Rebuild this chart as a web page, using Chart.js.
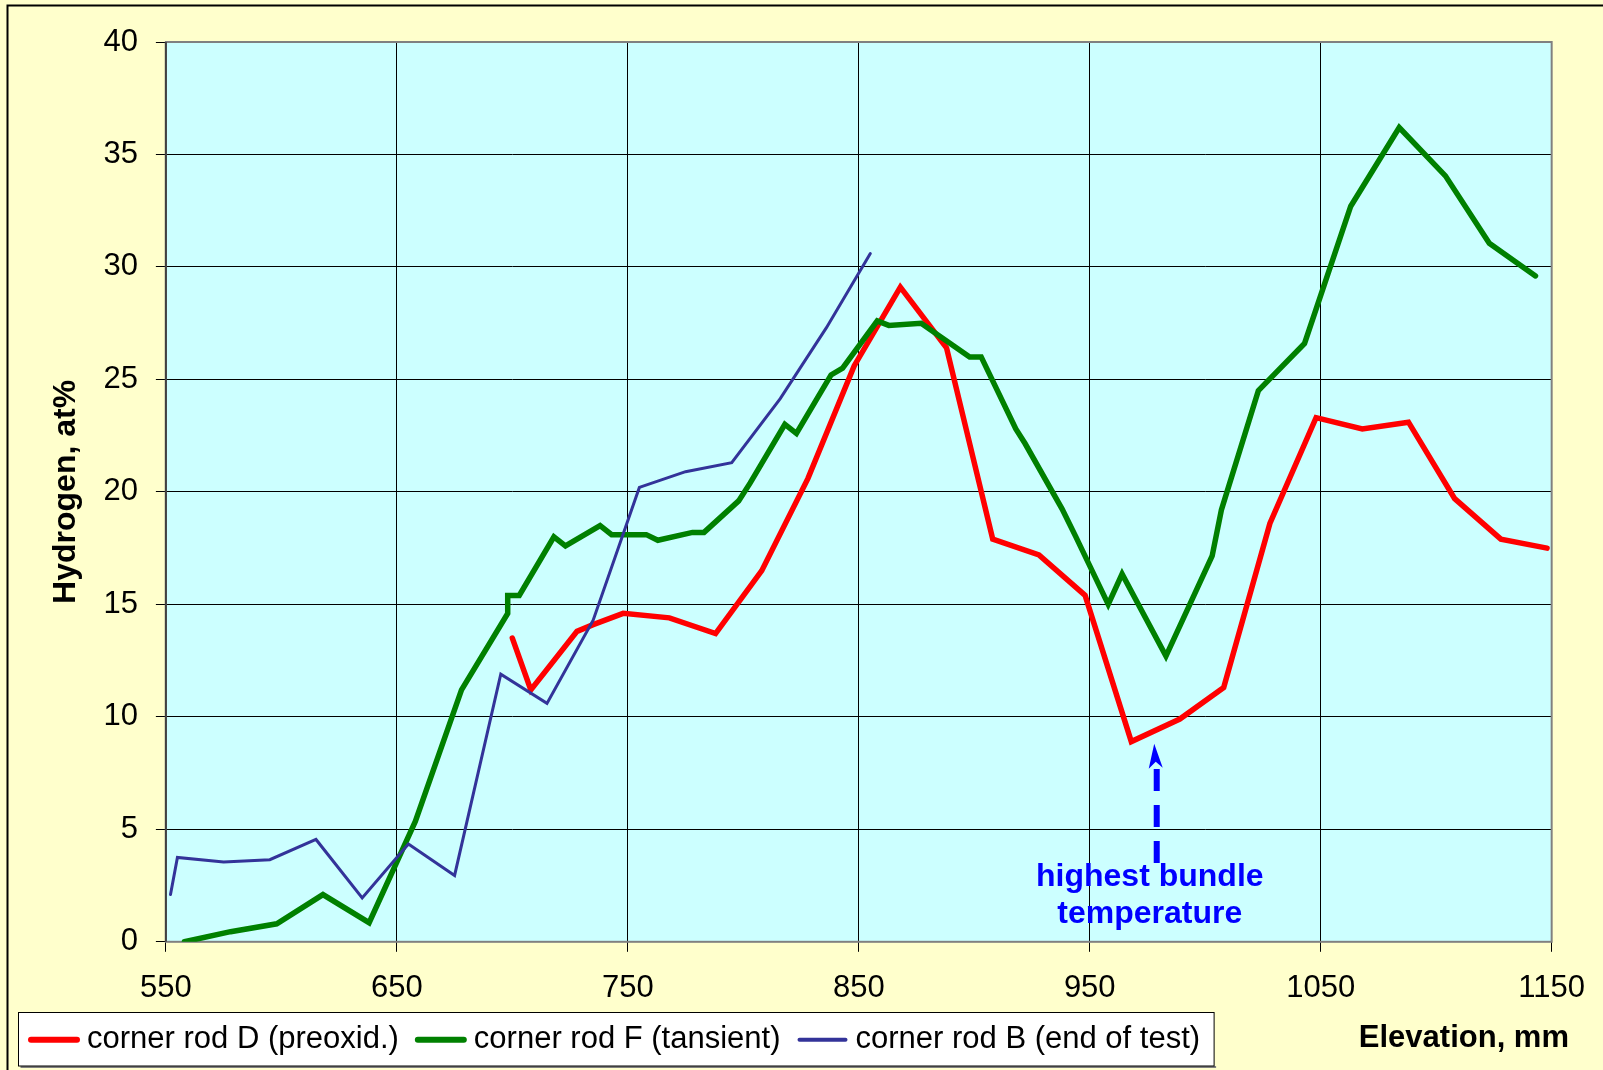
<!DOCTYPE html>
<html>
<head>
<meta charset="utf-8">
<script src="https://cdn.jsdelivr.net/npm/chart.js@4.4.1/dist/chart.umd.min.js"></script>
<style>
  html, body { margin: 0; padding: 0; background: #ffffcc; }
  #wrap { width: 1603px; height: 1070px; }
</style>
</head>
<body>
<div id="wrap"><canvas id="chart" width="1603" height="1070"></canvas></div>
<script>
// elevation (mm) / hydrogen (at%)
const rodD_elev = [700, 708, 728, 735, 748, 768, 788, 808, 828, 848, 868, 888, 908, 928, 948, 968, 989, 1008, 1028, 1048, 1068, 1088, 1108, 1128, 1148];
const rodD_h2   = [13.5, 11.2, 13.8, 14.1, 14.6, 14.4, 13.7, 16.5, 20.6, 25.6, 29.1, 26.4, 17.9, 17.2, 15.4, 8.9, 9.9, 11.3, 18.6, 23.3, 22.8, 23.1, 19.7, 17.9, 17.5];

const rodF_elev = [558, 578, 598, 618, 638, 658, 678, 698, 698, 703, 718, 723, 738, 743, 758, 763, 778, 783, 798, 803, 818, 823, 838, 843, 858, 863, 877, 898, 903, 918, 922, 938, 944, 958, 964, 983, 1003, 1007, 1023, 1043, 1063, 1084, 1104, 1123, 1143];
const rodF_h2   = [0, 0.45, 0.8, 2.1, 0.85, 5.35, 11.2, 14.6, 15.4, 15.4, 18.0, 17.6, 18.5, 18.1, 18.1, 17.85, 18.2, 18.2, 19.6, 20.4, 23.0, 22.6, 25.2, 25.5, 27.6, 27.4, 27.5, 26.0, 26.0, 22.8, 22.15, 19.25, 18.0, 15.0, 16.35, 12.7, 17.15, 19.2, 24.5, 26.6, 32.7, 36.2, 34.05, 31.05, 29.6];

const rodB_elev = [552, 555, 575, 595, 615, 635, 655, 675, 695, 715, 735, 755, 775, 795, 816, 836, 855];
const rodB_h2   = [2.1, 3.75, 3.55, 3.65, 4.55, 1.95, 4.35, 2.95, 11.9, 10.6, 14.3, 20.2, 20.9, 21.3, 24.15, 27.3, 30.6];

const xTicks = [550, 650, 750, 850, 950, 1050, 1150];
const yTicks = [0, 5, 10, 15, 20, 25, 30, 35, 40];

// annotation, in data units
const noteLines = ['highest bundle', 'temperature'];
const noteLineY = [2.87, 1.22];
const noteX = 976;
const arrowX = 979;
const arrowTip = 8.8;
const arrowBase = 3.5;

const FONT = '"Liberation Sans", Arial, sans-serif';

const toPoints = (xs, ys) => xs.map((x, i) => ({ x: x, y: ys[i] }));

const framePlugin = {
  id: 'frame',
  beforeDraw(chart) {
    const { ctx, chartArea: a } = chart;
    ctx.save();
    ctx.fillStyle = '#ffffcc';
    ctx.fillRect(0, 0, chart.width, chart.height);
    ctx.strokeStyle = '#000';
    ctx.lineWidth = 2;
    ctx.beginPath();
    ctx.moveTo(7.5, chart.height + 5);
    ctx.lineTo(7.5, 5.5);
    ctx.lineTo(chart.width + 5, 5.5);
    ctx.stroke();
    ctx.fillStyle = '#ccffff';
    ctx.fillRect(a.left, a.top, a.right - a.left, a.bottom - a.top);
    ctx.restore();
  },
  beforeDatasetsDraw(chart) {
    const { ctx, chartArea: a } = chart;
    ctx.save();
    ctx.strokeStyle = '#808080';
    ctx.lineWidth = 2;
    ctx.strokeRect(a.left, a.top, a.right - a.left, a.bottom - a.top);
    ctx.strokeStyle = '#404040';
    ctx.beginPath();
    ctx.moveTo(a.left, a.top);
    ctx.lineTo(a.left, a.bottom);
    ctx.stroke();
    ctx.restore();
  }
};

const notePlugin = {
  id: 'note',
  afterDatasetsDraw(chart) {
    const { ctx, scales: { x, y } } = chart;
    const ax = x.getPixelForValue(arrowX);
    const tip = y.getPixelForValue(arrowTip);
    const base = y.getPixelForValue(arrowBase);
    ctx.save();
    ctx.strokeStyle = '#0000ff';
    ctx.fillStyle = '#0000ff';
    ctx.lineWidth = 6;
    ctx.setLineDash([22, 14]);
    ctx.beginPath();
    ctx.moveTo(ax, base);
    ctx.lineTo(ax, tip + 20);
    ctx.stroke();
    ctx.setLineDash([]);
    ctx.beginPath();
    ctx.moveTo(ax - 2.5, tip);
    ctx.lineTo(ax - 8, tip + 25);
    ctx.lineTo(ax - 1, tip + 18);
    ctx.lineTo(ax + 6, tip + 24);
    ctx.closePath();
    ctx.fill();
    ctx.font = 'bold 32px ' + FONT;
    ctx.textAlign = 'center';
    ctx.textBaseline = 'middle';
    const tx = x.getPixelForValue(noteX);
    noteLines.forEach((t, i) => ctx.fillText(t, tx, y.getPixelForValue(noteLineY[i])));
    ctx.restore();
  }
};

const legendPlugin = {
  id: 'boxLegend',
  afterDraw(chart) {
    const ctx = chart.ctx;
    const sets = chart.data.datasets;
    const top = 1012.5, bottom = 1066, left = 18.5;
    const cy = (top + bottom) / 2 + 0.5;
    ctx.save();
    ctx.font = '31px ' + FONT;
    let xpos = 31;
    const items = sets.map(ds => {
      const it = { ds: ds, x: xpos, w: ctx.measureText(ds.label).width };
      xpos += 52 + 7 + it.w + 16;
      return it;
    });
    const right = xpos - 16 + 11;
    ctx.fillStyle = '#808080';
    ctx.fillRect(left + 2, bottom, right - left, 2);
    ctx.fillStyle = '#ffffff';
    ctx.fillRect(left, top, right - left, bottom - top);
    ctx.strokeStyle = '#000';
    ctx.lineWidth = 1;
    ctx.strokeRect(left, top, right - left, bottom - top);
    ctx.textBaseline = 'middle';
    ctx.textAlign = 'left';
    items.forEach(it => {
      ctx.strokeStyle = it.ds.borderColor;
      ctx.lineWidth = Math.max(it.ds.borderWidth + 0.5, 4);
      ctx.lineCap = 'round';
      ctx.beginPath();
      ctx.moveTo(it.x, cy);
      ctx.lineTo(it.x + 46, cy);
      ctx.stroke();
      ctx.fillStyle = '#000';
      ctx.fillText(it.ds.label, it.x + 56, cy);
    });
    // x axis title sits beside the legend
    ctx.font = 'bold 31px ' + FONT;
    ctx.textAlign = 'right';
    ctx.textBaseline = 'alphabetic';
    ctx.fillText('Elevation, mm', 1569, 1047);
    ctx.restore();
  }
};

const lineStyle = (color, width) => ({
  borderColor: color,
  backgroundColor: color,
  borderWidth: width,
  pointRadius: 0,
  pointHoverRadius: 0,
  tension: 0,
  fill: false,
  borderCapStyle: 'round'
});

new Chart(document.getElementById('chart'), {
  type: 'line',
  data: {
    datasets: [
      Object.assign({ label: 'corner rod D (preoxid.)', data: toPoints(rodD_elev, rodD_h2), order: 3 }, lineStyle('#ff0000', 5.5)),
      Object.assign({ label: 'corner rod F (tansient)', data: toPoints(rodF_elev, rodF_h2), order: 2 }, lineStyle('#008000', 5.5)),
      Object.assign({ label: 'corner rod B (end of test)', data: toPoints(rodB_elev, rodB_h2), order: 1 }, lineStyle('#333399', 3))
    ]
  },
  options: {
    responsive: false,
    animation: false,
    events: [],
    layout: { padding: { top: 42, right: 45, bottom: 45, left: 8 } },
    plugins: { legend: { display: false }, tooltip: { enabled: false } },
    scales: {
      x: {
        type: 'linear',
        min: 550,
        max: 1150,
        afterBuildTicks: s => { s.ticks = xTicks.map(v => ({ value: v })); },
        grid: { color: '#000', lineWidth: 1, tickLength: 10, tickColor: '#000' },
        border: { display: false },
        ticks: { color: '#000', font: { family: FONT, size: 31 }, padding: 18, maxRotation: 0, autoSkip: false, callback: v => String(v) }
      },
      y: {
        min: 0,
        max: 40,
        afterBuildTicks: s => { s.ticks = yTicks.map(v => ({ value: v })); },
        grid: { color: '#000', lineWidth: 1, tickLength: 10, tickColor: '#000' },
        border: { display: false },
        ticks: { color: '#000', font: { family: FONT, size: 31 }, padding: 18, callback: v => String(v) },
        title: {
          display: true,
          text: 'Hydrogen, at%',
          color: '#000',
          font: { family: FONT, size: 32, weight: 'bold' },
          padding: { top: 39, bottom: 0 }
        }
      }
    }
  },
  plugins: [framePlugin, notePlugin, legendPlugin]
});
</script>
</body>
</html>
